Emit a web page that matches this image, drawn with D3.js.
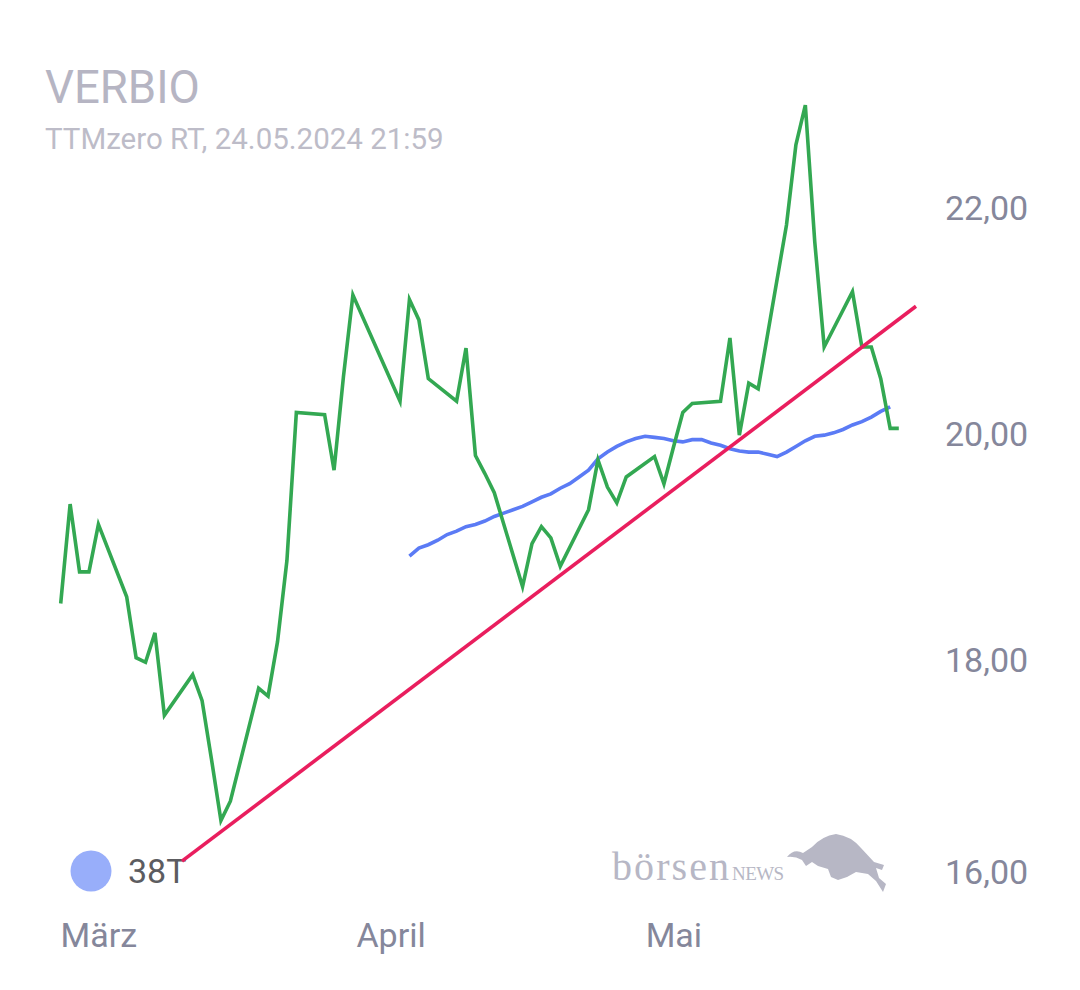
<!DOCTYPE html>
<html>
<head>
<meta charset="utf-8">
<script src="https://cdn.jsdelivr.net/npm/d3@7"></script>
<style>
  html, body { margin: 0; padding: 0; background: #ffffff; }
  svg { display: block; font-family: Roboto, "Noto Sans", sans-serif; }
</style>
</head>
<body>
<div id="chart"></div>
<script>
// daily closes (trading days), last point is the realtime quote
var priceDates = [
  "2024-02-26", "2024-02-27", "2024-02-28", "2024-02-29",
  "2024-03-01", "2024-03-04", "2024-03-05", "2024-03-06", "2024-03-07", "2024-03-08",
  "2024-03-11", "2024-03-12", "2024-03-13", "2024-03-14", "2024-03-15",
  "2024-03-18", "2024-03-19", "2024-03-20", "2024-03-21", "2024-03-22",
  "2024-03-25", "2024-03-26", "2024-03-27", "2024-03-28",
  "2024-04-02", "2024-04-03", "2024-04-04", "2024-04-05",
  "2024-04-08", "2024-04-09", "2024-04-10", "2024-04-11", "2024-04-12",
  "2024-04-15", "2024-04-16", "2024-04-17", "2024-04-18", "2024-04-19",
  "2024-04-22", "2024-04-23", "2024-04-24", "2024-04-25", "2024-04-26",
  "2024-04-29", "2024-04-30", "2024-05-01", "2024-05-02", "2024-05-03",
  "2024-05-06", "2024-05-07", "2024-05-08", "2024-05-09", "2024-05-10",
  "2024-05-13", "2024-05-14", "2024-05-15", "2024-05-16", "2024-05-17",
  "2024-05-20", "2024-05-21", "2024-05-22", "2024-05-23", "2024-05-24",
  "2024-05-24 21:59"
];
var priceValues = [
  18.50, 19.38, 18.78, 18.78,
  19.20, 18.56, 18.02, 17.98, 18.24, 17.51,
  17.87, 17.64, 17.12, 16.58, 16.75,
  17.75, 17.68, 18.16, 18.88, 20.19,
  20.17, 19.68, 20.51, 21.23,
  20.29, 21.19, 21.01, 20.49,
  20.29, 20.76, 19.81, 19.65, 19.48,
  18.65, 19.03, 19.18, 19.08, 18.83,
  19.33, 19.77, 19.53, 19.39, 19.62,
  19.80, 19.56, 19.88, 20.19, 20.27,
  20.29, 20.85, 19.99, 20.45, 20.40,
  21.85, 22.56, 22.91, 21.70, 20.77,
  21.26, 20.77, 20.77, 20.49, 20.05,
  20.05
];

// 38 day moving average, one value per calendar day from 3 April to 24 May
var maStart = "2024-04-03";
var maValues = [
  18.92, 18.99, 19.02, 19.06, 19.11, 19.14, 19.18, 19.20, 19.23, 19.27,
  19.30, 19.33, 19.36, 19.40, 19.44, 19.47, 19.52, 19.56, 19.62, 19.68,
  19.78, 19.84, 19.89, 19.93, 19.96, 19.98, 19.97, 19.96,
  19.94, 19.93, 19.95, 19.95, 19.92, 19.90, 19.87, 19.85, 19.84, 19.84,
  19.82, 19.80, 19.84, 19.89, 19.94, 19.98, 19.99, 20.01, 20.04, 20.08,
  20.11, 20.15, 20.20, 20.24
];

// trend line anchors
var trendDates = ["2024-03-09 20:50", "2024-05-26 17:45"];
var trendValues = [16.22, 21.13];

var monthTicks = ["2024-03-01", "2024-04-01", "2024-05-01"];
var monthNames = ["Januar", "Februar", "März", "April", "Mai", "Juni",
                  "Juli", "August", "September", "Oktober", "November", "Dezember"];
var priceTicks = [16, 18, 20, 22];
var legendLabel = "38T";

function parseDate(s) {
  return d3.timeParse("%Y-%m-%d %H:%M")(s) || d3.timeParse("%Y-%m-%d")(s);
}

function main() {
  var W = 1080, H = 990;

  var svg = d3.select("#chart").append("svg")
      .attr("width", W)
      .attr("height", H);

  svg.append("rect").attr("width", W).attr("height", H).attr("fill", "#ffffff");

  // title + source line
  svg.append("text")
      .attr("x", 45).attr("y", 103)
      .attr("font-size", "45.5px")
      .attr("fill", "#b6b5c3")
      .text("VERBIO");
  svg.append("text")
      .attr("x", 45).attr("y", 149)
      .attr("font-size", "29.5px")
      .attr("fill", "#bdbcc8")
      .text("TTMzero RT, 24.05.2024 21:59");

  var price = priceDates.map(function (d, i) {
    return {date: parseDate(d), value: priceValues[i]};
  });
  var maDays = d3.timeDay.range(parseDate(maStart), d3.timeDay.offset(parseDate(maStart), maValues.length));
  var ma = maValues.map(function (v, i) { return {date: maDays[i], value: v}; });
  var trend = trendDates.map(function (d, i) {
    return {date: parseDate(d), value: trendValues[i]};
  });

  // scales
  var x = d3.scaleTime()
      .domain([price[0].date, price[price.length - 1].date])
      .range([60.7, 898.8]);
  var y = d3.scaleLinear()
      .domain([16, 22])
      .range([886, 208]);

  // x axis: month names centered on the 1st
  var xAxis = svg.append("g")
      .attr("transform", "translate(0,947)")
      .call(d3.axisBottom(x)
          .tickValues(monthTicks.map(parseDate))
          .tickSize(0)
          .tickFormat(function (d) { return monthNames[d.getMonth()]; }));
  xAxis.select(".domain").remove();
  xAxis.selectAll("text")
      .attr("y", 0).attr("dy", 0)
      .attr("font-family", "Roboto, sans-serif")
      .attr("font-size", "34px")
      .attr("fill", "#85879b");

  // y axis on the right, german decimal comma
  var fmt = d3.formatLocale({decimal: ",", thousands: ".", grouping: [3], currency: ["", " €"]}).format(".2f");
  var yAxis = svg.append("g")
      .attr("transform", "translate(945,0)")
      .call(d3.axisRight(y).tickValues(priceTicks).tickSize(0).tickPadding(0).tickFormat(fmt));
  yAxis.select(".domain").remove();
  yAxis.selectAll("text")
      .attr("x", 0)
      .attr("dy", "0.35em")
      .attr("y", function (d) { return Math.min(0, 872 - y(d)); })
      .attr("text-anchor", "start")
      .attr("font-family", "Roboto, sans-serif")
      .attr("font-size", "34px")
      .attr("fill", "#85879b");

  // watermark logo
  var logo = svg.append("g").attr("fill", "#b7b7c5");
  var brand = logo.append("text")
      .attr("x", 612).attr("y", 880)
      .attr("font-family", "'Liberation Serif', 'DejaVu Serif', serif")
      .attr("font-size", "40px");
  brand.append("tspan").attr("textLength", 117).attr("lengthAdjust", "spacing").text("börsen");
  brand.append("tspan").attr("dx", 1).attr("font-size", "19px").attr("textLength", 52).attr("lengthAdjust", "spacing").text("NEWS");
  logo.append("path")
      .attr("d", "M787,857 Q794,848 803,853 L812,847 Q822,836 836,834 Q851,836 861,848 L874,862 " +
                 "L884,865 L882,870 L876,868 L879,878 L886,884 L883,892 L876,881 L868,874 L856,872 " +
                 "L847,877 L838,880 L831,877 L828,869 L818,866 L812,862 L806,866 L802,860 Q795,856 787,857 Z");

  var line = d3.line()
      .x(function (d) { return x(d.date); })
      .y(function (d) { return y(d.value); });

  // moving average
  svg.append("path")
      .datum(ma)
      .attr("fill", "none")
      .attr("stroke", "#5b7bf5")
      .attr("stroke-width", 3.6)
      .attr("d", line);

  // price
  svg.append("path")
      .datum(price)
      .attr("fill", "none")
      .attr("stroke", "#33a852")
      .attr("stroke-width", 3.6)
      .attr("d", line);

  // legend
  svg.append("circle")
      .attr("cx", 91).attr("cy", 871).attr("r", 20.5)
      .attr("fill", "#98aefa");
  svg.append("text")
      .attr("x", 128).attr("y", 883)
      .attr("font-size", "34px")
      .attr("fill", "#5c5c60")
      .text(legendLabel);

  // trend line
  svg.append("path")
      .datum(trend)
      .attr("fill", "none")
      .attr("stroke", "#e91e5e")
      .attr("stroke-width", 3.6)
      .attr("d", line);
}

main()
</script>
</body>
</html>
